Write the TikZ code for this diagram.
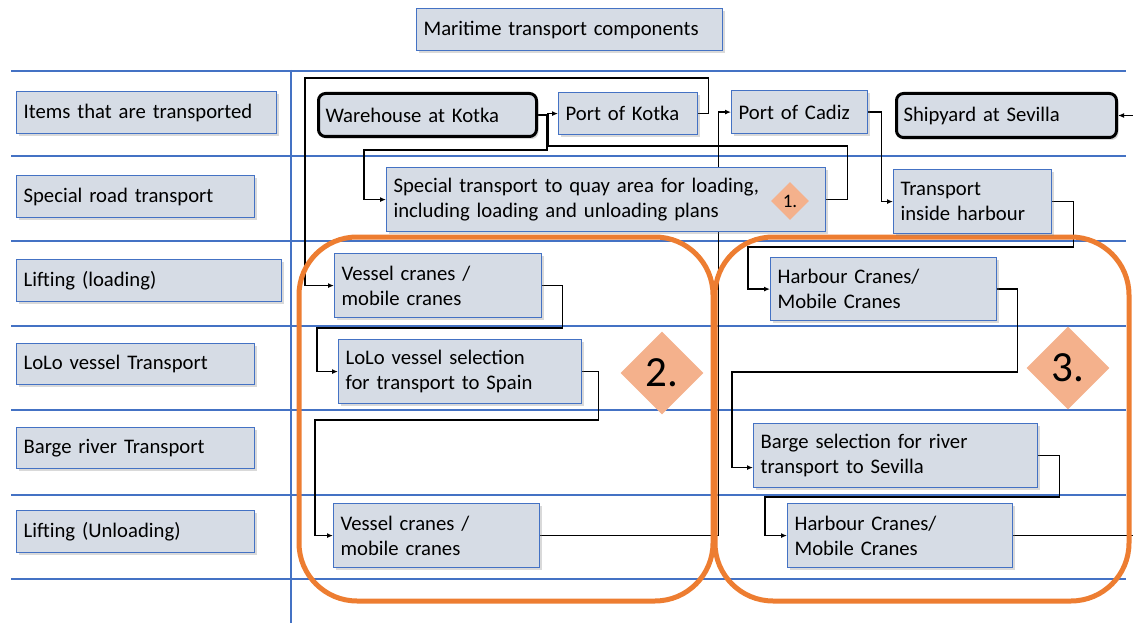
\documentclass[tikz,border=0pt]{standalone}
\usepackage{fontspec}
\setmainfont{Carlito}
\usetikzlibrary{shapes.geometric,shadows,arrows.meta,calc}
\definecolor{boxfill}{HTML}{D6DCE5}
\definecolor{boxline}{HTML}{4472C4}
\definecolor{gridline}{HTML}{4472C4}
\definecolor{orangeline}{HTML}{ED7D31}
\definecolor{badgefill}{HTML}{F4B18C}
\pgfdeclarelayer{grid}
\pgfdeclarelayer{links}
\pgfsetlayers{grid,links,main}

\tikzset{
  txt/.style={font=\fontsize{20.7}{25}\selectfont, text=black},
  sized/.code 2 args={\pgfmathsetmacro\boxtw{#1-14}%
    \pgfkeysalso{minimum width=#1pt, minimum height=#2pt, text width=\boxtw pt}},
  box/.style={txt, draw=boxline, fill=boxfill, line width=1.2pt, align=left,
    anchor=north west, inner xsep=7pt, inner ysep=0pt,
    drop shadow={opacity=0.3, shadow xshift=2pt, shadow yshift=-2.5pt}},
  site/.style={box, draw=black, line width=3pt, rounded corners=7pt},
  conn/.style={draw=black, line width=1.3pt, -{Latex[length=6pt,width=5pt]}},
  badge/.style={diamond, fill=badgefill, inner sep=0pt, text=black},
  group/.style={draw=orangeline, line width=5pt, rounded corners=58pt},
  lane/.style={draw=gridline, line width=1.3pt}
}

\begin{document}
\begin{tikzpicture}[x={(1pt,0)}, y={(0,-1pt)}]
\useasboundingbox (0,0) rectangle (1133,623);

% swimlane grid
\begin{pgfonlayer}{grid}
  \foreach \ly in {71,156,241,326,410,495,579}
    \draw[lane] (11,\ly) -- (1126,\ly);
  \draw[lane] (291,70) -- (291,623);
\end{pgfonlayer}

% title
\node[box, sized={306}{42}] (title) at (416,8) {Maritime transport components};

% lane labels
\node[box, sized={260}{42}] (lane1) at (16,91)  {Items that are transported};
\node[box, sized={238}{42}] (lane2) at (16,175) {Special road transport};
\node[box, sized={265}{42}] (lane3) at (16,259) {Lifting (loading)};
\node[box, sized={238}{41}] (lane4) at (16,343) {LoLo vessel Transport};
\node[box, sized={238}{41}] (lane5) at (16,427) {Barge river Transport};
\node[box, sized={238}{42}] (lane6) at (16,510) {Lifting (Unloading)};

% process steps
\node[site, sized={218}{43}] (wh) at (317,92) {Warehouse at Kotka};
\node[box, sized={139}{42}] (pk) at (558,92) {Port of Kotka};
\node[box, sized={136}{43}] (pc) at (731,90) {Port of Cadiz};
\node[site, sized={220}{44}] (sy) at (895,92) {Shipyard at Sevilla};
\node[box, sized={439}{64}] (sp) at (386,167)
  {Special transport to quay area for loading,\\including loading and unloading plans};
\node[box, sized={158}{64}] (th) at (893,169) {Transport\\inside harbour};
\node[box, sized={207}{64}] (vc1) at (334,253) {Vessel cranes /\\mobile cranes};
\node[box, sized={243}{64}] (lolo) at (338,339) {LoLo vessel selection\\for transport to Spain};
\node[box, sized={226}{63}] (hc1) at (770,257) {Harbour Cranes/\\Mobile Cranes};
\node[box, sized={284}{64}] (bg) at (753,423) {Barge selection for river\\transport to Sevilla};
\node[box, sized={225}{64}] (hc2) at (787,503) {Harbour Cranes/\\Mobile Cranes};
\node[box, sized={206}{64}] (vc2) at (333,503) {Vessel cranes /\\mobile cranes};

% phase markers
\node[badge, minimum width=38pt, minimum height=38pt, font=\fontsize{19}{19}\selectfont] (d1) at (790,201) {1.};
\node[badge, minimum width=83pt, minimum height=83pt, font=\fontsize{43}{43}\selectfont] (d2) at (662,373) {2.};
\node[badge, minimum width=83pt, minimum height=83pt, font=\fontsize{43}{43}\selectfont] (d3) at (1068,368) {3.};

% flow connectors and phase groups
\begin{pgfonlayer}{links}
\begin{scope}
  \clip (0,0) rectangle (1133,623);
  \draw[conn] (wh.east) -- ++(9,0) |- (364,150) |- (sp.west);
  \draw[conn] (sp.east) -- ++(21,0) |- (548,146) |- (pk.west);
  \draw[conn] (pk.east) -- ++(10,0) |- (305,78) |- (vc1.west);
  \draw[conn] (vc1.east) -- ++(20,0) |- (317,328) |- (lolo.west);
  \draw[conn] (lolo.east) -- ++(16,0) |- (315,420) |- (vc2.west);
  \draw[conn] (vc2.east) -- ++(178,0) |- (pc.west);
  \draw[conn] (pc.east) -- ++(13,0) |- (th.west);
  \draw[conn] (th.east) -- ++(21,0) |- (748,247) |- (hc1.west);
  \draw[conn] (hc1.east) -- ++(20,0) |- (732,372) |- ($(bg.west)+(0,12)$);
  \draw[conn] (bg.east) -- ++(21,0) |- (765,497) |- (hc2.west);
  \draw[conn] (hc2.east) -- ++(140,0) |- (sy.east);
  \draw[group] (299,237) rectangle (713,601);
  \draw[group] (715,237) rectangle (1129,601);
\end{scope}
\end{pgfonlayer}
\end{tikzpicture}
\end{document}
